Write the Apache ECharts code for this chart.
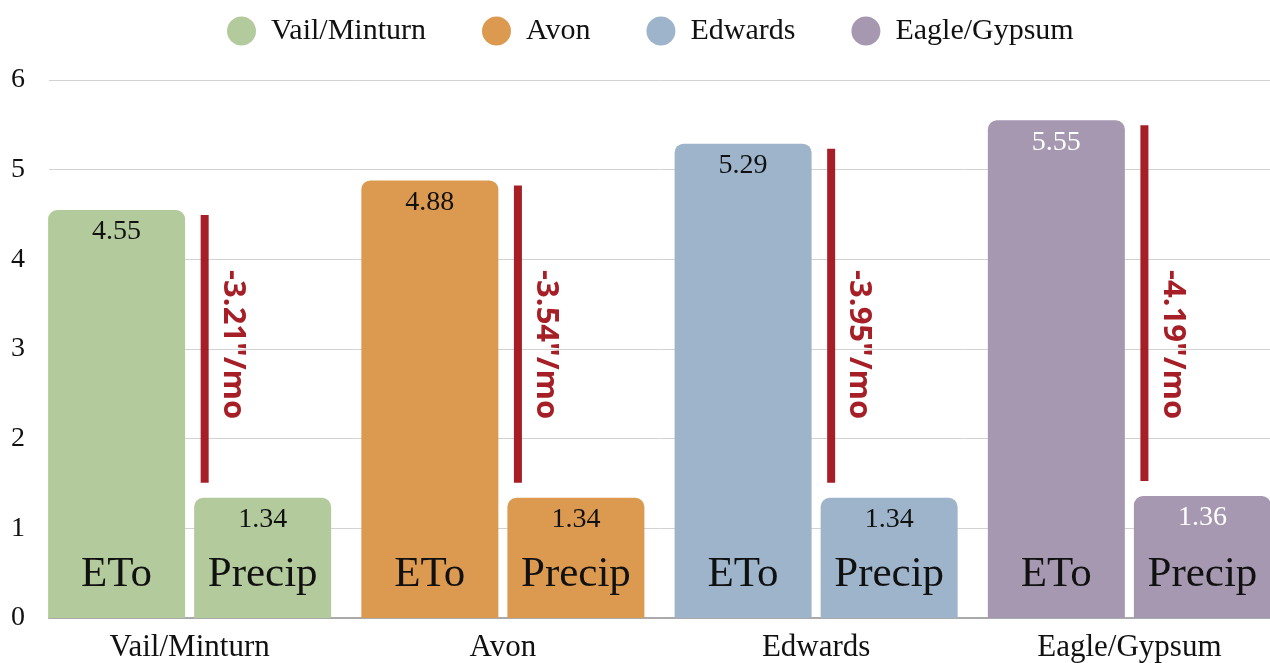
<!DOCTYPE html>
<html>
<head>
<meta charset="utf-8">
<script src="https://cdn.jsdelivr.net/npm/echarts@6/dist/echarts.min.js"></script>
<style>
html,body{margin:0;padding:0;background:#fff;overflow:hidden;width:1270px;height:663px;}
#chart{width:1286px;height:663px;}
</style>
</head>
<body>
<div id="chart"></div>
<script>
// ---- data ----
const categories = ['Vail/Minturn', 'Avon', 'Edwards', 'Eagle/Gypsum'];
const etoValues = [4.55, 4.88, 5.29, 5.55];
const precipValues = [1.34, 1.34, 1.34, 1.36];
const barNames = ['ETo', 'Precip'];
const yMin = 0, yMax = 6, yStep = 1;

// ---- style ----
const colors = ['#B3CB9C', '#DC9A50', '#9DB4CB', '#A698B1'];
const valueLabelColors = ['#111', '#111', '#111', '#ffffff'];
const RED = '#A61F26';
const SERIF = '"Liberation Serif", "DejaVu Serif", serif';
const BAR_W = 137;
const BAR_GAP = '6.6%';
const LINE_OFFSET = 0.048;   // fraction of band width right of the band centre
const LABEL_TOP = 3.88;      // y position where the rotated difference label starts

const chart = echarts.init(document.getElementById('chart'));

function barData(values) {
  return values.map((v, i) => ({
    value: v,
    itemStyle: { color: colors[i] },
    label: { color: valueLabelColors[i] }
  }));
}

const option = {
  animation: false,
  backgroundColor: '#fff',
  legend: {
    data: categories,
    left: 222,
    top: 11,
    icon: 'circle',
    itemWidth: 29,
    itemHeight: 29,
    itemGap: 56,
    textStyle: { fontFamily: SERIF, fontSize: 30, color: '#111', padding: [0, 0, 0, 10] }
  },
  grid: [
    { left: 49, right: 16, top: 80, bottom: 45 },
    { left: 33, right: 0, top: 80, bottom: 45 }
  ],
  xAxis: [
    { type: 'category', gridIndex: 0, data: categories,
      axisLine: { lineStyle: { color: '#aaaaaa', width: 2 } },
      axisTick: { show: false }, axisLabel: { show: false } },
    { type: 'category', gridIndex: 1, data: categories,
      axisLine: { show: false }, axisTick: { show: false },
      axisLabel: { fontFamily: SERIF, fontSize: 31, color: '#111', margin: 14 } },
    { type: 'category', gridIndex: 1, data: categories, show: false }
  ],
  yAxis: [
    { type: 'value', gridIndex: 0, min: yMin, max: yMax, interval: yStep,
      axisLine: { show: false }, axisTick: { show: false },
      splitLine: { lineStyle: { color: '#d2d2d2', width: 1 } },
      axisLabel: { fontFamily: SERIF, fontSize: 28, color: '#111', margin: 24 } },
    { type: 'value', gridIndex: 1, min: yMin, max: yMax, interval: yStep, show: false,
      splitLine: { show: false } }
  ],
  series: [
    {
      name: barNames[0], type: 'bar', xAxisIndex: 1, yAxisIndex: 1,
      barWidth: BAR_W, barGap: BAR_GAP,
      data: barData(etoValues),
      itemStyle: { borderRadius: [9, 9, 0, 0] },
      label: { show: true, position: 'insideTop', distance: 8,
        fontFamily: SERIF, fontSize: 28,
        formatter: p => p.value.toFixed(2) }
    },
    {
      name: barNames[1], type: 'bar', xAxisIndex: 1, yAxisIndex: 1,
      barWidth: BAR_W, barGap: BAR_GAP,
      data: barData(precipValues),
      itemStyle: { borderRadius: [9, 9, 0, 0] },
      label: { show: true, position: 'insideTop', distance: 8,
        fontFamily: SERIF, fontSize: 28,
        formatter: p => p.value.toFixed(2) }
    },
    {
      name: barNames[0] + ' label', type: 'bar', xAxisIndex: 2, yAxisIndex: 1,
      barWidth: BAR_W, barGap: BAR_GAP, silent: true,
      data: etoValues,
      itemStyle: { color: 'rgba(0,0,0,0)' },
      label: { show: true, position: 'insideBottom', distance: 22,
        fontFamily: SERIF, fontSize: 43, color: '#111', formatter: barNames[0] }
    },
    {
      name: barNames[1] + ' label', type: 'bar', xAxisIndex: 2, yAxisIndex: 1,
      barWidth: BAR_W, barGap: BAR_GAP, silent: true,
      data: precipValues,
      itemStyle: { color: 'rgba(0,0,0,0)' },
      label: { show: true, position: 'insideBottom', distance: 22,
        fontFamily: SERIF, fontSize: 43, color: '#111', formatter: barNames[1] }
    },
    {
      name: 'difference', type: 'custom', xAxisIndex: 1, yAxisIndex: 1, silent: true,
      data: categories.map((c, i) => [i, etoValues[i], precipValues[i]]),
      encode: { x: 0, y: [1, 2] },
      renderItem: function (params, api) {
        const i = api.value(0);
        const eto = api.value(1);
        const pr = api.value(2);
        const band = api.size([1, 0])[0];
        const x = api.coord([i, 0])[0] + band * LINE_OFFSET;
        const yTop = api.coord([i, eto])[1] + 5;
        const yBot = api.coord([i, pr])[1] - 15;
        const yText = api.coord([i, LABEL_TOP])[1];
        return {
          type: 'group',
          children: [
            { type: 'line', shape: { x1: x, y1: yTop, x2: x, y2: yBot },
              style: { stroke: RED, lineWidth: 8 } },
            { type: 'text', x: x + 28, y: yText, rotation: -Math.PI / 2,
              style: { text: '-' + (eto - pr).toFixed(2) + '"/mo', fill: RED,
                font: 'bold 31px "Open Sans", "Noto Sans", sans-serif',
                align: 'left', verticalAlign: 'middle' } }
          ]
        };
      }
    }
  ].concat(categories.map((c, i) => ({
    name: c, type: 'scatter', xAxisIndex: 1, yAxisIndex: 1, data: [],
    itemStyle: { color: colors[i], opacity: 1 }
  })))
};

chart.setOption(option);
</script>
</body>
</html>
